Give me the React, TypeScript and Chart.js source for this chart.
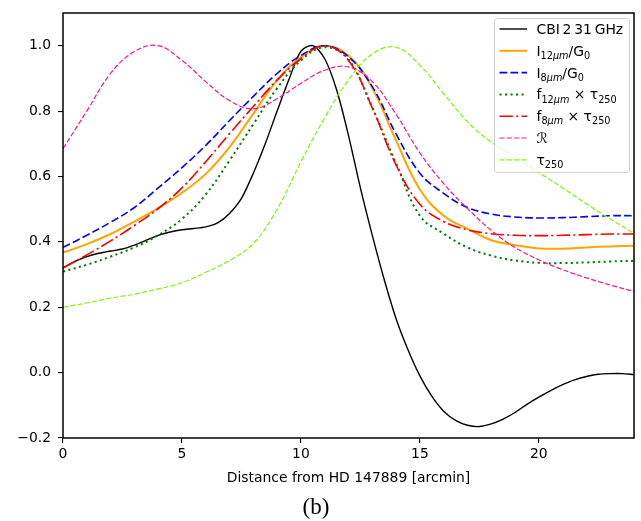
import React, { useEffect, useRef } from "react";
import { Chart, registerables } from "chart.js";

Chart.register(...registerables);

// ---- data ----
const xCoarse = [0, 1, 2, 3, 4, 5, 6, 7, 8, 9, 10, 11, 12, 13, 14, 15, 16, 17, 18, 19, 20, 21, 22, 23, 24];
const xFine = [0, 0.5, 1, 1.5, 2, 2.5, 3, 3.5, 4, 4.5, 5, 5.5, 6, 6.5, 7, 7.5, 8, 8.5, 9, 9.5, 10, 10.5, 11, 11.5, 12, 12.5, 13, 13.5, 14, 14.5, 15, 15.5, 16, 16.5, 17, 17.5, 18, 18.5, 19, 19.5, 20, 20.5, 21, 21.5, 22, 22.5, 23, 23.5, 24];

const cbi31 = [0.32, 0.34, 0.355, 0.365, 0.372, 0.378, 0.39, 0.405, 0.42, 0.43, 0.437, 0.441, 0.446, 0.458, 0.487, 0.533, 0.61, 0.70, 0.80, 0.897, 0.983, 1.0, 0.96, 0.865, 0.725, 0.565, 0.42, 0.285, 0.165, 0.07, -0.01, -0.072, -0.118, -0.146, -0.161, -0.165, -0.157, -0.142, -0.122, -0.097, -0.075, -0.055, -0.037, -0.022, -0.012, -0.005, -0.003, -0.003, -0.006];
const i12G0 = [0.367, 0.393, 0.424, 0.462, 0.503, 0.55, 0.608, 0.69, 0.792, 0.895, 0.965, 1.0, 0.97, 0.87, 0.71, 0.56, 0.48, 0.44, 0.405, 0.39, 0.38, 0.379, 0.383, 0.386, 0.388];
const i8G0 = [0.383, 0.42, 0.46, 0.505, 0.565, 0.627, 0.695, 0.771, 0.845, 0.915, 0.97, 1.0, 0.966, 0.875, 0.73, 0.61, 0.548, 0.505, 0.485, 0.476, 0.473, 0.474, 0.477, 0.48, 0.48];
const f12Tau = [0.309, 0.33, 0.355, 0.383, 0.42, 0.47, 0.545, 0.649, 0.76, 0.87, 0.955, 0.995, 0.958, 0.81, 0.64, 0.48, 0.425, 0.383, 0.358, 0.343, 0.336, 0.335, 0.337, 0.34, 0.342];
const f8Tau = [0.32, 0.36, 0.403, 0.45, 0.502, 0.565, 0.645, 0.731, 0.814, 0.895, 0.96, 1.0, 0.955, 0.81, 0.635, 0.515, 0.462, 0.437, 0.425, 0.42, 0.419, 0.42, 0.422, 0.424, 0.424];
const ratioR = [0.685, 0.8, 0.915, 0.982, 1.0, 0.955, 0.89, 0.832, 0.807, 0.838, 0.885, 0.925, 0.935, 0.89, 0.79, 0.672, 0.578, 0.502, 0.435, 0.383, 0.345, 0.315, 0.29, 0.268, 0.248];
const tau250 = [0.2, 0.213, 0.228, 0.24, 0.256, 0.275, 0.307, 0.343, 0.395, 0.5, 0.645, 0.78, 0.895, 0.975, 0.995, 0.94, 0.853, 0.767, 0.705, 0.66, 0.612, 0.565, 0.516, 0.47, 0.426];

const xTicks = [0, 5, 10, 15, 20];
const yTicks = [-0.2, 0, 0.2, 0.4, 0.6, 0.8, 1.0];

type Seg = { t: string; sub?: boolean; it?: boolean };
const legendLabels: Seg[][] = [
  [{ t: "CBI\u20092\u200931\u2009GHz" }],
  [{ t: "I" }, { t: "12", sub: true }, { t: "μm", sub: true, it: true }, { t: "/G" }, { t: "0", sub: true }],
  [{ t: "I" }, { t: "8", sub: true }, { t: "μm", sub: true, it: true }, { t: "/G" }, { t: "0", sub: true }],
  [{ t: "f" }, { t: "12", sub: true }, { t: "μm", sub: true, it: true }, { t: " × τ" }, { t: "250", sub: true }],
  [{ t: "f" }, { t: "8", sub: true }, { t: "μm", sub: true, it: true }, { t: " × τ" }, { t: "250", sub: true }],
  [{ t: "ℛ", it: true }],
  [{ t: "τ" }, { t: "250", sub: true }],
];

const xTitle = "Distance from HD 147889 [arcmin]";
const panelLabel = "(b)";

const FONT = '"DejaVu Sans"';
const FS = 13.9;

const styles = [
  { color: "#000000", width: 1.4, dash: [] as number[] },
  { color: "#ffa500", width: 2.0, dash: [] as number[] },
  { color: "#0000ff", width: 1.6, dash: [7.7, 3.3] },
  { color: "#008000", width: 2.0, dash: [2.1, 3.4] },
  { color: "#ff0000", width: 1.6, dash: [13.3, 3.3, 2.1, 3.3] },
  { color: "#ff1493", width: 1.2, dash: [5.1, 2.2] },
  { color: "#7cfc00", width: 1.2, dash: [5.1, 2.2] },
];

const decorPlugin = {
  id: "decor",
  afterDatasetsDraw(chart: any) {
    const ctx: CanvasRenderingContext2D = chart.ctx;
    const ca = chart.chartArea;
    ctx.save();
    // frame
    ctx.strokeStyle = "#000";
    ctx.lineWidth = 1.5;
    ctx.setLineDash([]);
    ctx.strokeRect(ca.left, ca.top, ca.right - ca.left, ca.bottom - ca.top);

    // legend box
    const bx = 494.5, by = 18.5, bw = 135, bh = 154, r = 3;
    ctx.beginPath();
    ctx.moveTo(bx + r, by);
    ctx.lineTo(bx + bw - r, by);
    ctx.arcTo(bx + bw, by, bx + bw, by + r, r);
    ctx.lineTo(bx + bw, by + bh - r);
    ctx.arcTo(bx + bw, by + bh, bx + bw - r, by + bh, r);
    ctx.lineTo(bx + r, by + bh);
    ctx.arcTo(bx, by + bh, bx, by + bh - r, r);
    ctx.lineTo(bx, by + r);
    ctx.arcTo(bx, by, bx + r, by, r);
    ctx.closePath();
    ctx.fillStyle = "rgba(255,255,255,0.8)";
    ctx.fill();
    ctx.strokeStyle = "rgba(204,204,204,0.9)";
    ctx.lineWidth = 1;
    ctx.stroke();

    const y0 = 29, dy = 21.8;
    legendLabels.forEach((segs, i) => {
      const cy = y0 + dy * i;
      const st = styles[i];
      ctx.strokeStyle = st.color;
      ctx.lineWidth = st.width;
      ctx.setLineDash(st.dash);
      ctx.beginPath();
      ctx.moveTo(499.5, cy);
      ctx.lineTo(527, cy);
      ctx.stroke();
      ctx.setLineDash([]);
      let x = 536.5;
      const base = cy + 5;
      ctx.fillStyle = "#000";
      ctx.textBaseline = "alphabetic";
      ctx.textAlign = "left";
      segs.forEach((s) => {
        const size = s.sub ? 9.7 : FS;
        ctx.font = `${s.it ? "italic " : ""}${size}px ${FONT}`;
        ctx.fillText(s.t, x, base + (s.sub ? 3.2 : 0));
        x += ctx.measureText(s.t).width;
      });
    });

    // axis title
    ctx.font = `${FS}px ${FONT}`;
    ctx.fillStyle = "#000";
    ctx.textAlign = "center";
    ctx.textBaseline = "middle";
    ctx.fillText(xTitle, (ca.left + ca.right) / 2, 478);

    // panel label
    ctx.font = `23px "Liberation Serif"`;
    ctx.fillText(panelLabel, 316, 508);
    ctx.restore();
  },
};

function mk(label: string, xsArr: number[], ys: number[], i: number, tension: number) {
  const st = styles[i];
  return {
    label,
    data: xsArr.map((x, k) => ({ x, y: ys[k] })),
    borderColor: st.color,
    borderWidth: st.width,
    borderDash: st.dash,
    pointRadius: 0,
    fill: false,
    tension,
    order: 7 - i,
  };
}

export default function App() {
  const ref = useRef<HTMLCanvasElement | null>(null);
  useEffect(() => {
    if (!ref.current) return;
    const chart = new Chart(ref.current, {
      type: "line",
      data: {
        datasets: [
          mk("CBI 2 31 GHz", xFine, cbi31, 0, 0.3),
          mk("I12/G0", xCoarse, i12G0, 1, 0.4),
          mk("I8/G0", xCoarse, i8G0, 2, 0.4),
          mk("f12 x tau250", xCoarse, f12Tau, 3, 0.4),
          mk("f8 x tau250", xCoarse, f8Tau, 4, 0.4),
          mk("R", xCoarse, ratioR, 5, 0.4),
          mk("tau250", xCoarse, tau250, 6, 0.4),
        ] as any,
      },
      options: {
        responsive: false,
        animation: false,
        devicePixelRatio: 1,
        layout: { padding: { left: 0, right: 7, top: 13, bottom: 0 } },
        plugins: { legend: { display: false }, tooltip: { enabled: false } },
        scales: {
          x: {
            type: "linear",
            min: 0,
            max: 24,
            afterBuildTicks: (s: any) => {
              s.ticks = xTicks.map((v) => ({ value: v }));
            },
            afterFit: (s: any) => {
              s.height = 83;
              s.paddingLeft = 0;
              s.paddingRight = 0;
            },
            grid: { display: true, drawOnChartArea: false, drawTicks: true, tickLength: 5, color: "#000", lineWidth: 1.1 },
            border: { display: false },
            ticks: {
              color: "#000",
              font: { family: "DejaVu Sans", size: FS },
              padding: 3,
              maxRotation: 0,
              autoSkip: false,
              callback: (v: any) => String(v),
            },
          },
          y: {
            type: "linear",
            min: -0.2,
            max: 1.1,
            afterBuildTicks: (s: any) => {
              s.ticks = yTicks.map((v) => ({ value: v }));
            },
            afterFit: (s: any) => {
              s.width = 63;
              s.paddingTop = 0;
              s.paddingBottom = 0;
            },
            grid: { display: true, drawOnChartArea: false, drawTicks: true, tickLength: 5, color: "#000", lineWidth: 1.1 },
            border: { display: false },
            ticks: {
              color: "#000",
              font: { family: "DejaVu Sans", size: FS },
              padding: 7,
              autoSkip: false,
              callback: (v: any) => {
                const n = Number(v);
                const s = Math.abs(n).toFixed(1);
                return n < -1e-9 ? "\u2212" + s : s;
              },
            },
          },
        },
      } as any,
      plugins: [decorPlugin],
    });
    return () => chart.destroy();
  }, []);
  return (
    <div style={{ position: "absolute", left: 0, top: 0, width: 641, height: 521 }}>
      <canvas ref={ref} width={641} height={521} style={{ display: "block" }} />
    </div>
  );
}
